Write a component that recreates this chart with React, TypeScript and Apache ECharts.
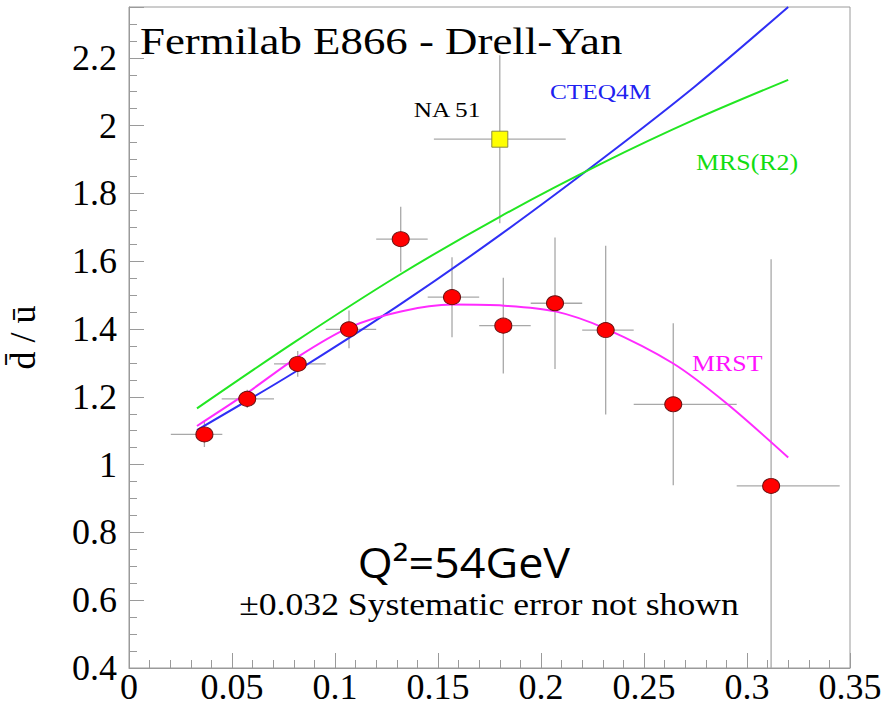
import React, { useEffect, useRef } from "react";
import * as echarts from "echarts";

// ---- Data ----
const xVals = [0.0366, 0.0574, 0.0819, 0.1068, 0.1319, 0.1568, 0.1817, 0.2068, 0.2314, 0.2642, 0.3117];
const yVals = [1.089, 1.194, 1.297, 1.399, 1.665, 1.494, 1.41, 1.476, 1.397, 1.178, 0.937];
const xLow = [0.0203, 0.045, 0.0704, 0.0955, 0.12, 0.145, 0.17, 0.195, 0.22, 0.245, 0.295];
const xHigh = [0.0453, 0.0704, 0.0955, 0.12, 0.145, 0.17, 0.195, 0.22, 0.245, 0.295, 0.345];
const yErr = [0.037, 0.027, 0.038, 0.056, 0.096, 0.118, 0.141, 0.194, 0.249, 0.239, 0.669];

const na51 = { x: 0.18, y: 1.96, xLow: 0.148, xHigh: 0.212, yErr: 0.248 };

const cteqX = [0.033, 0.08, 0.13, 0.18, 0.23, 0.275, 0.32];
const cteqY = [1.102, 1.271, 1.466, 1.677, 1.903, 2.117, 2.35];

const mrsX = [0.033, 0.08, 0.13, 0.18, 0.23, 0.275, 0.32];
const mrsY = [1.166, 1.36, 1.555, 1.731, 1.89, 2.019, 2.135];

const mrstX = [0.033, 0.057, 0.082, 0.107, 0.132, 0.157, 0.182, 0.207, 0.231, 0.264, 0.29, 0.32];
const mrstY = [1.114, 1.21, 1.318, 1.405, 1.452, 1.472, 1.469, 1.452, 1.402, 1.299, 1.181, 1.021];

const X_MIN = 0, X_MAX = 0.35, X_STEP = 0.05;
const Y_MIN = 0.4, Y_MAX = 2.35, Y_STEP = 0.2;

const SERIF = "Liberation Serif";
const FRAME = "#9a9a9a";
const ERR = "#a8a8a8";

export default function App() {
  const ref = useRef<HTMLDivElement>(null);

  useEffect(() => {
    if (!ref.current) return;
    const chart = echarts.init(ref.current, undefined, { renderer: "svg" });

    const errRender = (params: any, api: any) => {
      const x = api.value(0), y = api.value(1), xl = api.value(2), xh = api.value(3), e = api.value(4);
      const yl = Math.max(y - e, Y_MIN);
      const yh = Math.min(y + e, Y_MAX);
      const pL = api.coord([xl, y]);
      const pR = api.coord([xh, y]);
      const pB = api.coord([x, yl]);
      const pT = api.coord([x, yh]);
      const style = { stroke: ERR, lineWidth: 1.3 };
      return {
        type: "group",
        children: [
          { type: "line", shape: { x1: pL[0], y1: pL[1], x2: pR[0], y2: pR[1] }, style },
          { type: "line", shape: { x1: pB[0], y1: pB[1], x2: pT[0], y2: pT[1] }, style },
        ],
      };
    };

    const e866Err = xVals.map((x, i) => [x, yVals[i], xLow[i], xHigh[i], yErr[i]]);
    const naErr = [[na51.x, na51.y, na51.xLow, na51.xHigh, na51.yErr]];

    const serifText = (text: string, x: number, y: number, size: number, fill: string, align: string, sx = 1.15) => ({
      type: "text", x, y, scaleX: sx, z: 10,
      style: {
        text, fontFamily: SERIF, fontSize: size, fill,
        textAlign: align, textVerticalAlign: "middle", verticalAlign: "middle",
      },
    });

    chart.setOption({
      animation: false,
      backgroundColor: "#ffffff",
      grid: {
        left: 129, right: 35, top: 7, bottom: 40,
        containLabel: false, outerBoundsMode: "none",
        show: true, borderColor: FRAME, borderWidth: 1, backgroundColor: "transparent",
      },
      xAxis: {
        type: "value",
        min: X_MIN, max: X_MAX, interval: X_STEP,
        axisLine: { show: true, lineStyle: { color: FRAME, width: 1 } },
        axisTick: { show: true, inside: true, length: 15, lineStyle: { color: FRAME } },
        minorTick: { show: true, splitNumber: 5, length: 8, lineStyle: { color: FRAME } },
        splitLine: { show: false },
        axisLabel: { color: "#000", fontFamily: SERIF, fontSize: 36, margin: 1 },
      },
      yAxis: {
        type: "value",
        min: Y_MIN, max: Y_MAX, interval: Y_STEP,
        name: "d\u0304 / \u016B",
        nameLocation: "middle",
        nameRotate: 90,
        nameGap: 88,
        nameTextStyle: { color: "#000", fontFamily: SERIF, fontSize: 36 },
        axisLine: { show: true, lineStyle: { color: FRAME, width: 1 } },
        axisTick: { show: true, inside: true, length: 15, lineStyle: { color: FRAME } },
        minorTick: { show: true, splitNumber: 4, length: 8, lineStyle: { color: FRAME } },
        splitLine: { show: false },
        axisLabel: {
          color: "#000", fontFamily: SERIF, fontSize: 36, margin: 12,
          formatter: (v: number) => (Math.abs(v - Y_MAX) < 1e-6 ? "" : String(Math.round(v * 100) / 100)),
        },
      },
      series: [
        {
          type: "custom", name: "E866 errors", renderItem: errRender, data: e866Err,
          encode: { x: 0, y: 1 }, z: 1, silent: true, clip: true,
        },
        {
          type: "custom", name: "NA51 errors", renderItem: errRender, data: naErr,
          encode: { x: 0, y: 1 }, z: 1, silent: true, clip: true,
        },
        {
          type: "line", name: "CTEQ4M", data: cteqX.map((x, i) => [x, cteqY[i]]),
          smooth: 0.3, showSymbol: false, symbol: "none", z: 3,
          lineStyle: { color: "#2f2ff5", width: 2 }, clip: true,
        },
        {
          type: "line", name: "MRS(R2)", data: mrsX.map((x, i) => [x, mrsY[i]]),
          smooth: 0.3, showSymbol: false, symbol: "none", z: 3,
          lineStyle: { color: "#22e622", width: 2 }, clip: true,
        },
        {
          type: "line", name: "MRST", data: mrstX.map((x, i) => [x, mrstY[i]]),
          smooth: 0.3, showSymbol: false, symbol: "none", z: 3,
          lineStyle: { color: "#ff2bff", width: 2 }, clip: true,
        },
        {
          type: "scatter", name: "E866", data: xVals.map((x, i) => [x, yVals[i]]),
          symbol: "circle", symbolSize: [17, 15], z: 5,
          itemStyle: { color: "#ff0000", borderColor: "#6a1010", borderWidth: 1, opacity: 1 },
        },
        {
          type: "scatter", name: "NA 51", data: [[na51.x, na51.y]],
          symbol: "rect", symbolSize: 16, z: 5,
          itemStyle: { color: "#ffff00", borderColor: "#8a8a40", borderWidth: 1, opacity: 1 },
        },
      ],
      graphic: [
        serifText("Fermilab E866 - Drell-Yan", 140, 41, 39, "#000", "left"),
        serifText("NA 51", 447, 110, 22, "#000", "center"),
        serifText("CTEQ4M", 550, 92, 22, "#2020f0", "left"),
        serifText("MRS(R2)", 696, 162, 22.5, "#11dd11", "left"),
        serifText("MRST", 692, 363, 22.5, "#ff11ff", "left"),
        {
          type: "text", x: 464, y: 562, scaleX: 1.07, z: 10,
          style: {
            text: "Q\u00B2=54GeV", fontFamily: "Open Sans", fontSize: 42, fill: "#000",
            textAlign: "center", textVerticalAlign: "middle", verticalAlign: "middle",
          },
        },
        serifText("\u00B10.032 Systematic error not shown", 489, 604, 31, "#000", "center"),
      ],
    });

    return () => chart.dispose();
  }, []);

  return (
    <div
      ref={ref}
      style={{ position: "fixed", left: 0, top: 0, width: 885, height: 708, background: "#fff" }}
    />
  );
}
